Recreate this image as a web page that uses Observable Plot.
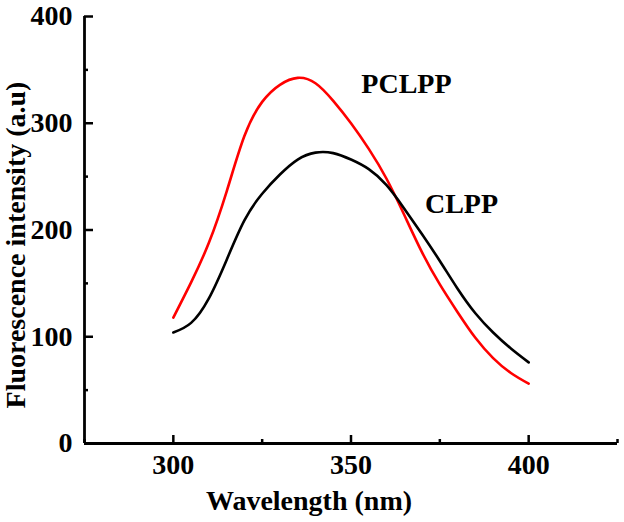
<!DOCTYPE html>
<html>
<head>
<meta charset="utf-8">
<script src="https://cdn.jsdelivr.net/npm/d3@7"></script>
<script src="https://cdn.jsdelivr.net/npm/@observablehq/plot@0.6"></script>
<style>
  html, body { margin: 0; padding: 0; background: #fff; }
  #chart svg { display: block; }
</style>
</head>
<body>
<div id="chart"></div>
<script>
// Wavelength (nm)
const wavelengths = [300,305,310,315,320,325,330,335,340,345,350,355,360,365,370,375,380,385,390,395,400];
// PCLPP fluorescence intensity (a.u)
const pclpp = [118,151,188,236,288,320,336,342.5,337.5,321,300,276,248,214,179,149,123,99,80,66,56];
// CLPP fluorescence intensity (a.u)
const clpp = [104,113,136,172,209,234,252,266,272.5,272,266,257,242,220,196,171,145,122,104,89,76];

const seriesNames = ["PCLPP", "CLPP"];
const seriesColors = ["#ff0000", "#000000"];
const seriesLabels = [
  {name: "PCLPP", x: 365.6, y: 337},
  {name: "CLPP", x: 381.1, y: 224}
];

const xMajorTicks = [300, 350, 400];
const xMinorTicks = [275, 325, 375, 425];
const yMajorTicks = [0, 100, 200, 300, 400];
const yMinorTicks = [50, 150, 250, 350];

const xTitle = "Wavelength (nm)";
const yTitle = "Fluorescence intensity (a.u)";

const rows = [];
wavelengths.forEach((w, i) => {
  rows.push({series: "PCLPP", w, v: pclpp[i]});
  rows.push({series: "CLPP", w, v: clpp[i]});
});

const font = "'Liberation Serif', 'Times New Roman', serif";

const chart = Plot.plot({
  width: 624,
  height: 522,
  marginLeft: 84,
  marginRight: 7,
  marginTop: 16,
  marginBottom: 79,
  style: {fontFamily: font, fontSize: "28px", fontWeight: "bold", color: "#000", background: "#fff", overflow: "visible"},
  x: {domain: [275, 425]},
  y: {domain: [0, 400]},
  color: {domain: seriesNames, range: seriesColors},
  marks: [
    // tick labels
    Plot.axisX({ticks: xMajorTicks, tickSize: 0, tickPadding: 11, label: null, fontSize: 28, fontWeight: "bold"}),
    Plot.axisY({ticks: yMajorTicks, tickSize: 0, tickPadding: 12, label: null, fontSize: 28, fontWeight: "bold"}),
    // inward tick marks
    Plot.axisX({ticks: xMajorTicks, tickSize: -8, text: null, label: null, strokeWidth: 2.5}),
    Plot.axisX({ticks: xMinorTicks, tickSize: -4, text: null, label: null, strokeWidth: 2.5}),
    Plot.axisY({ticks: yMajorTicks, tickSize: -9, text: null, label: null, strokeWidth: 2.5}),
    Plot.axisY({ticks: yMinorTicks, tickSize: -4, text: null, label: null, strokeWidth: 2.5}),
    // axis lines
    Plot.ruleX([275], {strokeWidth: 2.8}),
    Plot.ruleY([0], {strokeWidth: 2.8}),
    // curves
    Plot.line(rows, {x: "w", y: "v", z: "series", stroke: "series", strokeWidth: 2.6, curve: "natural"}),
    // series labels
    Plot.text(seriesLabels, {x: "x", y: "y", text: "name", fontSize: 28, fontWeight: "bold", fill: "#000"}),
    // axis titles
    Plot.text([xTitle], {frameAnchor: "bottom", textAnchor: "middle", lineAnchor: "middle", dx: -42, dy: 58, fontSize: 28, fontWeight: "bold", fill: "#000"}),
    Plot.text([yTitle], {frameAnchor: "left", textAnchor: "middle", lineAnchor: "middle", rotate: -90, dx: -68, dy: 15, fontSize: 28, fontWeight: "bold", fill: "#000"})
  ]
});

document.getElementById("chart").appendChild(chart);
</script>
</body>
</html>
